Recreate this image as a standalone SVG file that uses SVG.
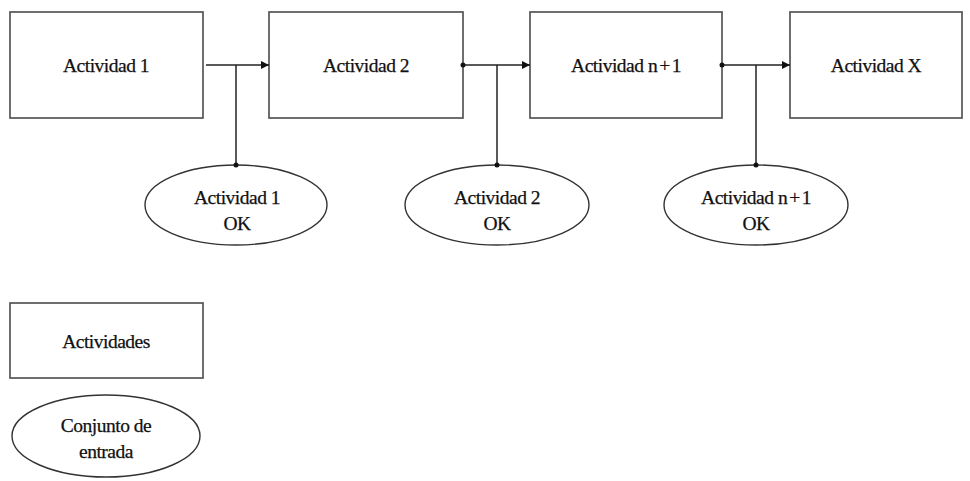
<svg xmlns="http://www.w3.org/2000/svg" width="970" height="481" viewBox="0 0 970 481">
  <defs>
    <marker id="arrow" viewBox="0 0 10 10" refX="10" refY="5" markerWidth="11" markerHeight="8" markerUnits="userSpaceOnUse" orient="auto">
      <path d="M0,0 L10,5 L0,10 Z" fill="#111"/>
    </marker>
    <style>
      .box { fill: #fff; stroke: #555; stroke-width: 1.7; }
      .oval { fill: #fff; stroke: #333; stroke-width: 1.4; }
      .label { font-family: "Liberation Serif", "DejaVu Serif", serif; font-size: 19.5px; fill: #111; text-anchor: middle; letter-spacing: -0.5px; stroke: #111; stroke-width: 0.25; }
      .wire { fill: none; stroke: #222; stroke-width: 1.5; }
      .dot { fill: #111; }
    </style>
  </defs>
  <rect width="970" height="481" fill="#fff"/>

  <!-- activities -->
  <g id="act1">
    <rect class="box" x="10" y="12" width="193" height="106"/>
    <text class="label" x="106" y="72">Actividad 1</text>
  </g>
  <g id="act2">
    <rect class="box" x="269" y="12" width="194" height="106"/>
    <text class="label" x="366" y="72">Actividad 2</text>
  </g>
  <g id="actn1">
    <rect class="box" x="530" y="12" width="192" height="106"/>
    <text class="label" x="626" y="72">Actividad n<tspan dx="2">+</tspan><tspan dx="2">1</tspan></text>
  </g>
  <g id="actx">
    <rect class="box" x="790" y="12" width="172" height="106"/>
    <text class="label" x="876" y="72">Actividad X</text>
  </g>

  <!-- input sets -->
  <g id="ok1">
    <ellipse class="oval" cx="236" cy="205" rx="91" ry="40"/>
    <text class="label" x="237" y="204">Actividad 1</text>
    <text class="label" x="237" y="230">OK</text>
  </g>
  <g id="ok2">
    <ellipse class="oval" cx="497" cy="205" rx="92" ry="40"/>
    <text class="label" x="497" y="204">Actividad 2</text>
    <text class="label" x="497" y="230">OK</text>
  </g>
  <g id="okn1">
    <ellipse class="oval" cx="756" cy="205" rx="92" ry="40"/>
    <text class="label" x="756" y="204">Actividad n<tspan dx="2">+</tspan><tspan dx="2">1</tspan></text>
    <text class="label" x="756" y="230">OK</text>
  </g>

  <!-- legend -->
  <g id="legend-activity">
    <rect class="box" x="10" y="303" width="193" height="75"/>
    <text class="label" x="106" y="348">Actividades</text>
  </g>
  <g id="legend-input">
    <ellipse class="oval" cx="106" cy="436" rx="94" ry="41"/>
    <text class="label" x="106" y="432">Conjunto de</text>
    <text class="label" x="106" y="458">entrada</text>
  </g>

  <!-- connectors, drawn last so the junction dots sit on top of the outlines -->
  <g id="connectors">
    <path class="wire" d="M206,65 H269" marker-end="url(#arrow)"/>
    <path class="wire" d="M236,65 V165"/>
    <circle class="dot" cx="236" cy="165" r="2.5"/>

    <path class="wire" d="M463,65 H530" marker-end="url(#arrow)"/>
    <circle class="dot" cx="463" cy="65" r="2.5"/>
    <path class="wire" d="M497,65 V165"/>
    <circle class="dot" cx="497" cy="165" r="2.5"/>

    <path class="wire" d="M722,65 H790" marker-end="url(#arrow)"/>
    <circle class="dot" cx="722" cy="65" r="2.5"/>
    <path class="wire" d="M756,65 V165"/>
    <circle class="dot" cx="756" cy="165" r="2.5"/>
  </g>
</svg>
